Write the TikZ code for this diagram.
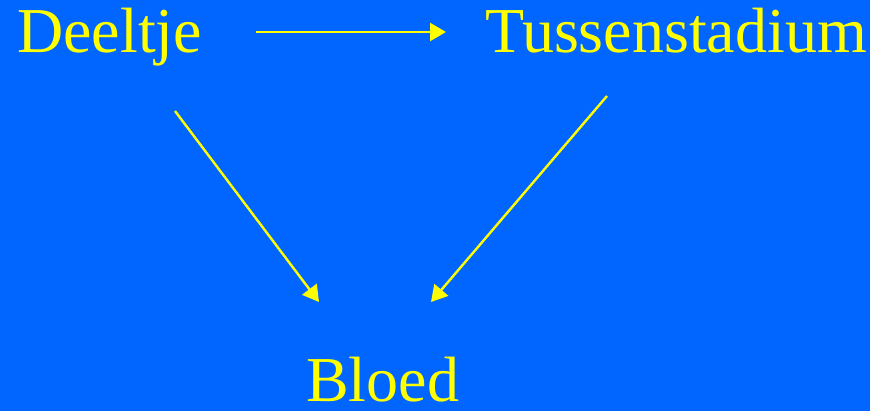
\documentclass[tikz,border=0pt]{standalone}
\usepackage{fontspec}
\setmainfont{Liberation Serif}
\usetikzlibrary{arrows.meta}
\definecolor{bgblue}{HTML}{0066FF}
\definecolor{txtyellow}{HTML}{FFFF00}
\begin{document}
\begin{tikzpicture}[x=1pt,y=-1pt,
  word/.style={text=txtyellow, font=\fontsize{64}{64}\selectfont, inner sep=0pt, anchor=base west},
  link/.style={draw=txtyellow, line width=2.4pt, -{Triangle[length=16pt,width=18pt]}}]
  \fill[bgblue] (0,0) rectangle (870,411);
  \useasboundingbox (0,0) rectangle (870,411);
  \node[word] (deeltje) at (17,53) {Deeltje};
  \node[word] (tussen) at (485,53) {Tussenstadium};
  \node[word] (bloed) at (306,402) {Bloed};
  \coordinate (d1) at (256,32);
  \coordinate (t1) at (446,32);
  \coordinate (d2) at (175,111);
  \coordinate (b1) at (319,302);
  \coordinate (t2) at (607,96);
  \coordinate (b2) at (431,302);
  \draw[link] (d1) -- (t1);
  \draw[link] (d2) -- (b1);
  \draw[link] (t2) -- (b2);
\end{tikzpicture}
\end{document}
